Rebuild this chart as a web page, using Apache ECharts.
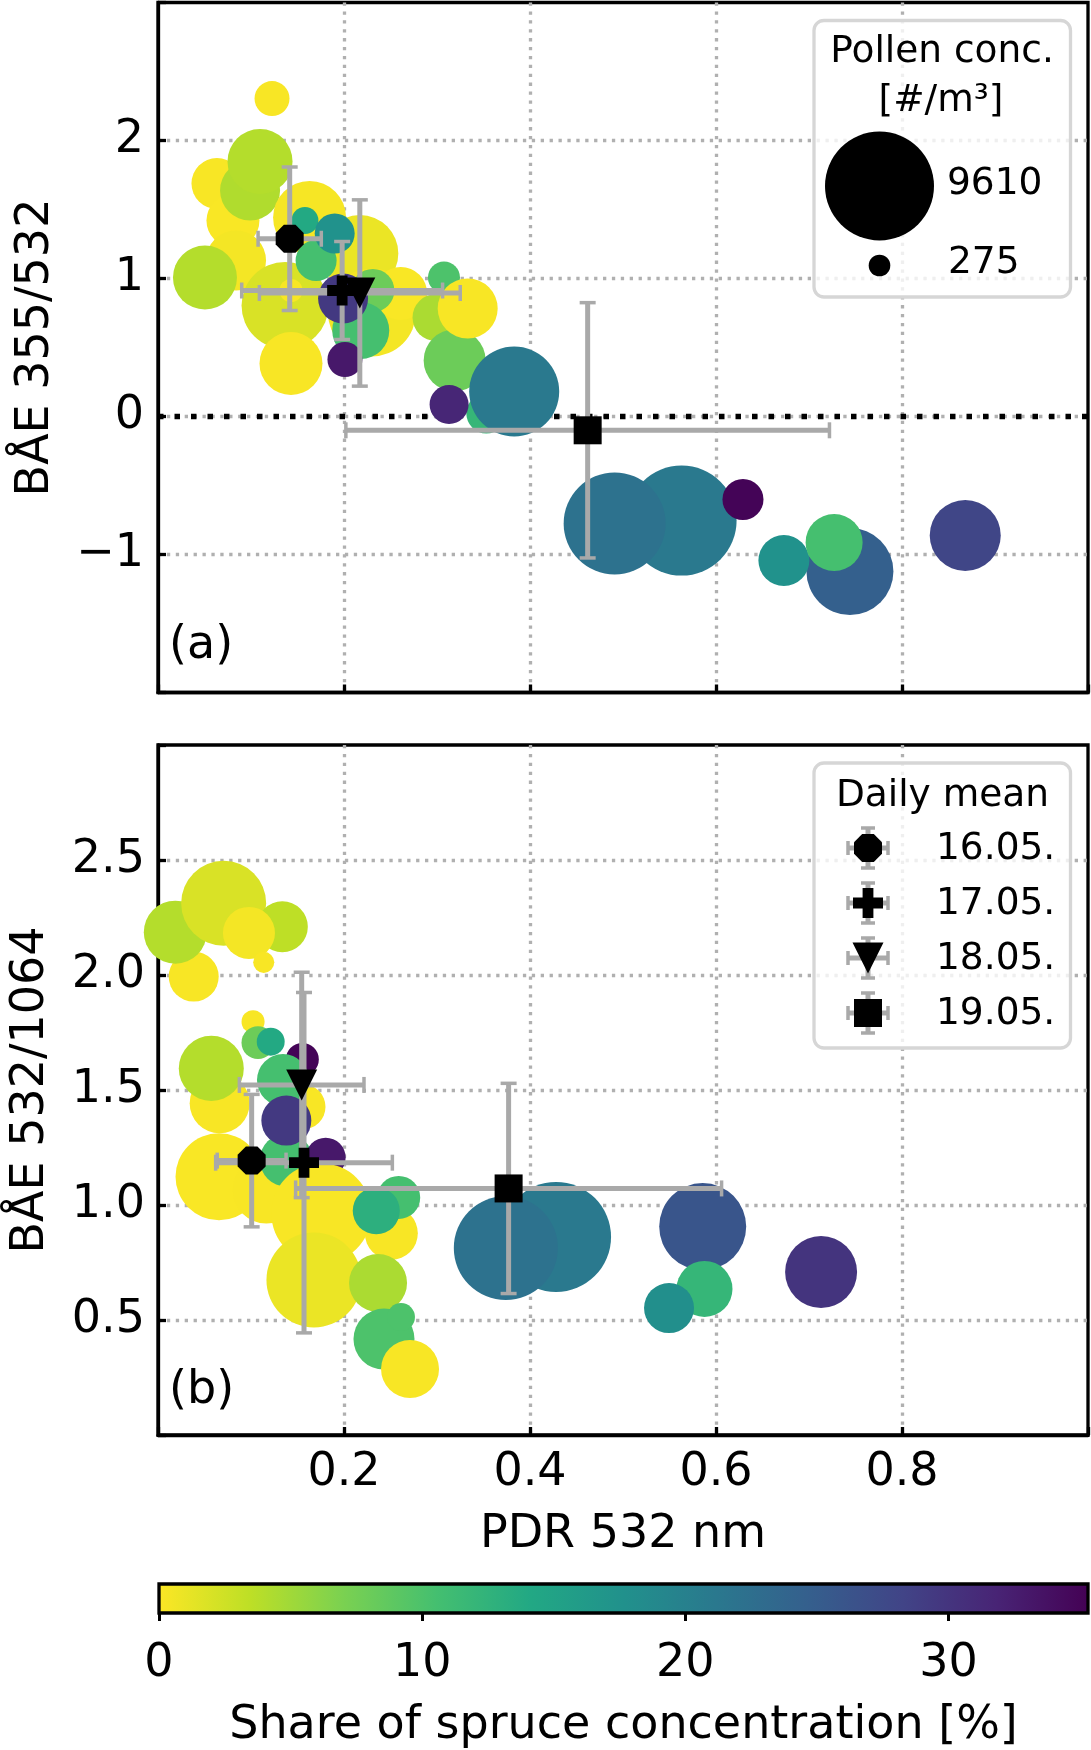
<!DOCTYPE html>
<html>
<head>
<meta charset="utf-8">
<script src="https://cdn.jsdelivr.net/npm/echarts@6/dist/echarts.min.js"></script>
<style>
html,body{margin:0;padding:0;background:#fff;}
#chart{width:1091px;height:1750px;}
</style>
</head>
<body>
<div id="chart"></div>
<script>
// ---------------- DATA ----------------
// Panel (a): PDR 532 nm vs BAE 355/532
const topPdr   = [0.0634,0.0806,0.0839,0.099,0.1097,0.1226,0.163,0.217,0.230,0.261,0.0505,0.1366,0.143,0.143,0.158,0.170,0.190,0.231,0.218,0.199,0.201,0.299,0.3075,0.319,0.333,0.353,0.313,0.383,0.563,0.491,0.629,0.744,0.673,0.727,0.868];
const topBae   = [1.688,1.420,1.130,1.638,1.848,2.304,1.442,1.181,0.754,0.891,1.007,0.804,0.913,0.384,1.420,1.130,1.326,0.913,0.623,0.855,0.413,0.717,1.007,0.406,0.783,0.022,0.087,0.181,-0.754,-0.775,-0.601,-1.123,-1.043,-0.913,-0.862];
const topShare = [0.3,0.2,0.5,4.2,4.0,0.3,0.4,1.0,0.5,0.2,4.0,2.0,0.3,0.3,14.0,10.5,17.5,8.0,10.5,29.5,33.0,4.5,10.0,8.0,0.3,12.0,31.5,21.0,21.0,22.0,35.0,24.5,17.5,10.5,28.0];
const topConc  = [2100,2270,2910,2910,3420,990,4310,4800,6260,2270,3310,6120,430,3210,590,1360,1290,1500,2630,2020,990,1790,830,3110,2910,1290,1230,6550,9790,8410,1360,6120,2100,2630,4080];

// Panel (b): PDR 532 nm vs BAE 532/1064
const botPdr   = [0.0384,0.0186,0.0706,0.1337,0.0978,0.1137,0.0663,0.1559,0.1022,0.1075,0.1212,0.1552,0.0573,0.1344,0.0656,0.1165,0.138,0.138,0.1803,0.1756,0.2509,0.2588,0.2347,0.1677,0.2366,0.243,0.2613,0.271,0.428,0.374,0.5857,0.5876,0.5495,0.713];
const botBae   = [1.993,2.186,2.312,2.210,2.183,2.055,1.442,1.427,1.797,1.706,1.710,1.633,1.594,1.543,1.123,1.065,1.196,1.367,1.206,0.964,0.877,1.033,0.975,0.674,0.661,0.417,0.513,0.287,0.861,0.813,0.906,0.635,0.552,0.709];
const botShare = [0.3,4.0,2.0,3.5,0.5,0.3,0.3,0.3,0.3,8.0,14.0,35.0,4.0,10.5,0.2,0.3,10.5,29.5,33.0,0.3,0.3,10.5,13.0,1.0,4.5,10.0,10.0,0.3,21.0,22.0,26.0,12.0,18.0,30.0];
const botConc  = [2020,3210,5840,2100,2190,360,2910,1640,430,880,630,880,3420,2190,6120,3630,2270,2020,1290,8090,2270,1500,1790,7300,2720,3010,630,2720,9790,8750,6120,2540,2020,4190];

// Daily means with standard deviations
const dayLabels   = ['16.05.','17.05.','18.05.','19.05.'];
const topMeanPdr  = [0.1416,0.198,0.217,0.462];
const topMeanBae  = [1.288,0.913,0.895,-0.10];
const topErrPdr   = [0.034,0.108,0.108,0.26];
const topErrBae   = [0.52,0.355,0.675,0.925];
const botMeanPdr  = [0.1007,0.157,0.1545,0.377];
const botMeanBae  = [1.193,1.184,1.522,1.072];
const botErrPdr   = [0.037,0.095,0.067,0.229];
const botErrBae   = [0.288,0.74,0.49,0.457];

// Legend / colour bar
const sizeLegendValues = [9610, 275];
const shareTicks = [0,10,20,30];
const shareMax = 35.3;

// ---------------- STYLE ----------------
const FONT = 'DejaVu Sans';
const FS = 46;      // axis text size
const LFS = 37.5;   // legend text size
const viridis = ['#440154','#482475','#414487','#355f8d','#2a788e','#21918c','#22a884','#44bf70','#7ad151','#bddf26','#fde725'];
const cmap = viridis.slice().reverse(); // 0 % = yellow, max = purple
const ERR = '#a9a9a9';
const sizeOf = c => 1.112 * Math.sqrt(c);

const shapes = {
  oct: (() => { const p=[]; for(let k=0;k<8;k++){const a=(22.5+45*k)*Math.PI/180; p.push([Math.cos(a),Math.sin(a)]);} return p; })(),
  plus: (() => { const a=0.36; return [[-a,-1],[a,-1],[a,-a],[1,-a],[1,a],[a,a],[a,1],[-a,1],[-a,a],[-1,a],[-1,-a],[-a,-a]]; })(),
  tri: [[-1,-1],[1,-1],[0,1]],
  sq: [[-1,-1],[1,-1],[1,1],[-1,1]]
};
const dayShape = ['oct','plus','tri','sq'];
const daySize  = [28,30,31,28];
const toPath = pts => 'path://M' + pts.map(p => p[0].toFixed(3)+','+p[1].toFixed(3)).join('L') + 'Z';

const gridLine = {show:true, showMinLine:false, showMaxLine:false, lineStyle:{color:'#b0b0b0', width:3.3, type:[3.3,5.6]}};
const tickIn = {show:true, inside:true, length:8, lineStyle:{color:'#000', width:3.3}};
const labelStyle = {fontSize:FS, color:'#000', fontFamily:FONT};

function errRender(params, api) {
  const x = api.value(0), y = api.value(1), ex = api.value(2), ey = api.value(3);
  const l = api.coord([x-ex, y]), r = api.coord([x+ex, y]);
  const t = api.coord([x, y+ey]), b = api.coord([x, y-ey]);
  const st = {stroke:ERR, lineWidth:5};
  const cs = {stroke:ERR, lineWidth:3.5};
  const c = 8;
  return {type:'group', children:[
    {type:'line', shape:{x1:l[0],y1:l[1],x2:r[0],y2:r[1]}, style:st},
    {type:'line', shape:{x1:t[0],y1:t[1],x2:b[0],y2:b[1]}, style:st},
    {type:'line', shape:{x1:l[0],y1:l[1]-c,x2:l[0],y2:l[1]+c}, style:cs},
    {type:'line', shape:{x1:r[0],y1:r[1]-c,x2:r[0],y2:r[1]+c}, style:cs},
    {type:'line', shape:{x1:t[0]-c,y1:t[1],x2:t[0]+c,y2:t[1]}, style:cs},
    {type:'line', shape:{x1:b[0]-c,y1:b[1],x2:b[0]+c,y2:b[1]}, style:cs}
  ]};
}

function bubbleData(px, py, sh, cc){ return px.map((x,i)=>[x, py[i], sh[i], cc[i]]); }
function errData(px, py, ex, ey){ return px.map((x,i)=>[x, py[i], ex[i], ey[i]]); }
function meanData(px, py){ return px.map((x,i)=>({value:[x, py[i]], symbol:toPath(shapes[dayShape[i]]), symbolSize:daySize[i]})); }

// ---------------- LEGEND GRAPHICS ----------------
function polyAt(name, cx, cy, size){
  const pts = shapes[name];
  let mx=0, my=0; pts.forEach(p=>{mx=Math.max(mx,Math.abs(p[0])); my=Math.max(my,Math.abs(p[1]));});
  return pts.map(p=>[cx + p[0]/mx*size/2, cy + p[1]/my*size/2]);
}
const graphics = [];
function txt(text, x, y, size, align){
  graphics.push({type:'text', z:101, style:{text:text, x:x, y:y, font:size+'px "'+FONT+'"', fill:'#000', align:align||'left', verticalAlign:'middle', textAlign:align||'left', textVerticalAlign:'middle'}});
}
// legend (a)
graphics.push({type:'rect', z:100, shape:{x:814, y:20.5, width:256.5, height:276.5, r:10}, style:{fill:'rgba(255,255,255,0.8)', stroke:'#d6d6d6', lineWidth:3.3}});
txt('Pollen conc.', 942, 52, LFS, 'center');
txt('[#/m³]', 941, 101, LFS, 'center');
graphics.push({type:'circle', z:101, shape:{cx:879.5, cy:186, r:sizeOf(sizeLegendValues[0])/2}, style:{fill:'#000'}});
graphics.push({type:'circle', z:101, shape:{cx:879.5, cy:265.5, r:10.8}, style:{fill:'#000'}});
txt(String(sizeLegendValues[0]), 947, 184, LFS);
txt(String(sizeLegendValues[1]), 948, 263, LFS);
// legend (b)
graphics.push({type:'rect', z:100, shape:{x:814, y:763, width:256.5, height:285, r:10}, style:{fill:'rgba(255,255,255,0.8)', stroke:'#d6d6d6', lineWidth:3.3}});
txt('Daily mean', 942.5, 796, LFS, 'center');
const legY = [848, 903, 958, 1013];
dayLabels.forEach((lab,i)=>{
  const cx = 868, cy = legY[i], e = 20, c = 7;
  const st = {stroke:ERR, lineWidth:5}, cs = {stroke:ERR, lineWidth:3.5};
  graphics.push({type:'line', z:101, shape:{x1:cx-e,y1:cy,x2:cx+e,y2:cy}, style:st});
  graphics.push({type:'line', z:101, shape:{x1:cx,y1:cy-e,x2:cx,y2:cy+e}, style:st});
  graphics.push({type:'line', z:101, shape:{x1:cx-e,y1:cy-c,x2:cx-e,y2:cy+c}, style:cs});
  graphics.push({type:'line', z:101, shape:{x1:cx+e,y1:cy-c,x2:cx+e,y2:cy+c}, style:cs});
  graphics.push({type:'line', z:101, shape:{x1:cx-c,y1:cy-e,x2:cx+c,y2:cy-e}, style:cs});
  graphics.push({type:'line', z:101, shape:{x1:cx-c,y1:cy+e,x2:cx+c,y2:cy+e}, style:cs});
  graphics.push({type:'polygon', z:102, shape:{points:polyAt(dayShape[i], cx, cy, daySize[i])}, style:{fill:'#000'}});
  txt(lab, 936, cy+1, LFS);
});
// panel letters
txt('(a)', 169, 646, FS);
txt('(b)', 169, 1391, FS);

// ---------------- CHART ----------------
const chart = echarts.init(document.getElementById('chart'), null, {renderer:'canvas'});
const topFmt = v => (v === -2 || v === 3) ? '' : (v < 0 ? '\u2212' + Math.abs(v) : String(v));
const botFmt = v => (v <= 0.001 || v >= 2.999) ? '' : v.toFixed(1);
const xFmt = v => (v <= 0.001 || v >= 0.999) ? '' : String(Math.round(v*10)/10);
const spine = {show:true, onZero:false, lineStyle:{color:'#000', width:3.3}};

chart.setOption({
  animation:false,
  textStyle:{fontFamily:FONT},
  grid:[
    {left:158, top:2.5, width:930, height:690, show:true, borderColor:'#000', borderWidth:3.3, backgroundColor:'transparent'},
    {left:158, top:745, width:930, height:690, show:true, borderColor:'#000', borderWidth:3.3, backgroundColor:'transparent'},
    {left:159, top:1584, width:929, height:35, show:false}
  ],
  xAxis:[
    {gridIndex:0, type:'value', min:0, max:1, interval:0.2, axisLine:spine, axisTick:tickIn, axisLabel:{show:false}, splitLine:gridLine},
    {gridIndex:1, type:'value', min:0, max:1, interval:0.2, axisLine:spine, axisTick:tickIn,
     axisLabel:Object.assign({margin:15, formatter:xFmt}, labelStyle), splitLine:gridLine,
     name:'PDR 532 nm', nameLocation:'middle', nameGap:77, nameTextStyle:labelStyle},
    {gridIndex:2, type:'value', min:0, max:shareMax, axisLine:{show:false},
     axisTick:{show:true, inside:false, length:8, customValues:shareTicks, lineStyle:{color:'#000', width:3}},
     axisLabel:Object.assign({margin:28, customValues:shareTicks}, labelStyle), splitLine:{show:false},
     name:'Share of spruce concentration [%]', nameLocation:'middle', nameGap:90, nameTextStyle:labelStyle}
  ],
  yAxis:[
    {gridIndex:0, type:'value', min:-2, max:3, interval:1, axisLine:spine, axisTick:tickIn,
     axisLabel:Object.assign({margin:14, formatter:topFmt}, labelStyle), splitLine:gridLine,
     name:'BÅE 355/532', nameLocation:'middle', nameGap:99, nameTextStyle:labelStyle},
    {gridIndex:1, type:'value', min:0, max:3, interval:0.5, axisLine:spine, axisTick:tickIn,
     axisLabel:Object.assign({margin:13, formatter:botFmt}, labelStyle), splitLine:gridLine,
     name:'BÅE 532/1064', nameLocation:'middle', nameGap:104, nameTextStyle:labelStyle},
    {gridIndex:2, type:'value', min:0, max:1, show:false}
  ],
  visualMap:{show:false, type:'continuous', min:0, max:shareMax, dimension:2, seriesIndex:[1,2], inRange:{color:cmap}},
  series:[
    {type:'line', xAxisIndex:0, yAxisIndex:0, z:1, silent:true, symbol:'none',
     data:[[0,0],[1,0]], lineStyle:{color:'#000', width:5.5, type:[5.5,11], cap:'butt'}},
    {type:'scatter', xAxisIndex:0, yAxisIndex:0, z:2, data:bubbleData(topPdr, topBae, topShare, topConc),
     symbolSize:d=>sizeOf(d[3]), itemStyle:{opacity:1, borderWidth:0}, emphasis:{disabled:true}, silent:true},
    {type:'scatter', xAxisIndex:1, yAxisIndex:1, z:2, data:bubbleData(botPdr, botBae, botShare, botConc),
     symbolSize:d=>sizeOf(d[3]), itemStyle:{opacity:1, borderWidth:0}, emphasis:{disabled:true}, silent:true},
    {type:'custom', xAxisIndex:0, yAxisIndex:0, z:3, renderItem:errRender, encode:{x:0, y:1},
     data:errData(topMeanPdr, topMeanBae, topErrPdr, topErrBae), silent:true},
    {type:'custom', xAxisIndex:1, yAxisIndex:1, z:3, renderItem:errRender, encode:{x:0, y:1},
     data:errData(botMeanPdr, botMeanBae, botErrPdr, botErrBae), silent:true},
    {type:'scatter', xAxisIndex:0, yAxisIndex:0, z:4, data:meanData(topMeanPdr, topMeanBae),
     itemStyle:{color:'#000', opacity:1}, emphasis:{disabled:true}, silent:true},
    {type:'scatter', xAxisIndex:1, yAxisIndex:1, z:4, data:meanData(botMeanPdr, botMeanBae),
     itemStyle:{color:'#000', opacity:1}, emphasis:{disabled:true}, silent:true},
    {type:'custom', xAxisIndex:2, yAxisIndex:2, z:2, silent:true, data:[[0, shareMax]], encode:{x:[0,1]},
     renderItem:(params, api)=>{
       const p0 = api.coord([api.value(0), 0]), p1 = api.coord([api.value(1), 1]);
       return {type:'rect', shape:{x:p0[0], y:p1[1], width:p1[0]-p0[0], height:p0[1]-p1[1]},
         style:{fill:new echarts.graphic.LinearGradient(0,0,1,0, cmap.map((c,i)=>({offset:i/(cmap.length-1), color:c}))),
                stroke:'#000', lineWidth:3.3}};
     }}
  ],
  graphic:graphics
});
</script>
</body>
</html>
